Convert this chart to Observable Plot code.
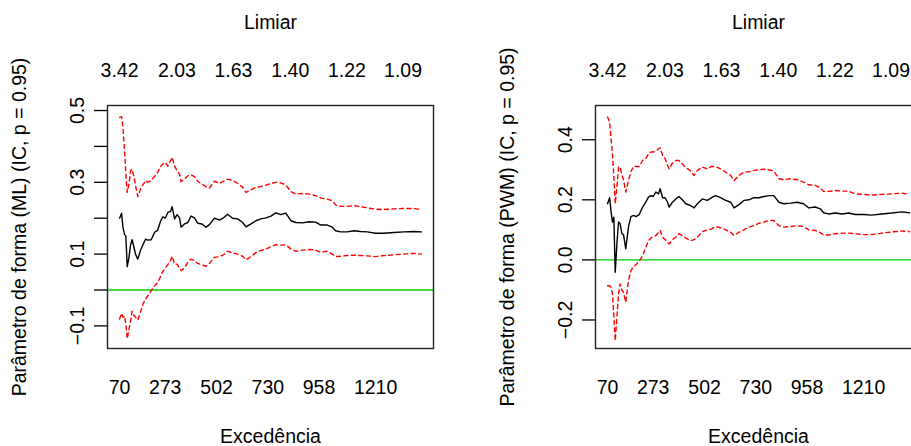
<!DOCTYPE html>
<html><head><meta charset="utf-8">
<script src="https://cdn.jsdelivr.net/npm/d3@7"></script>
<script src="https://cdn.jsdelivr.net/npm/@observablehq/plot@0.6"></script>
<style>
html,body{margin:0;padding:0;background:#fff;}
#wrap{position:relative;width:911px;height:446px;overflow:hidden;background:#fff;}
.panel{position:absolute;top:0;width:488px;height:446px;}
.panel svg{max-width:none !important;width:488px;height:446px;}
</style></head><body>
<div id="wrap"><div class="panel" id="p1" style="left:0"></div><div class="panel" id="p2" style="left:488px"></div></div>
<script>
// Number of exceedances (x)
const exceed = [70,79,85,92,98,104,112,119,126,134,141,151,163,174,186,196,211,226,240,252,263,273,285,297,304,315,326,337,344,359,374,388,403,418,437,455,470,492,514,533,551,573,596,618,633,655,677,699,722,744,766,788,810,833,855,884,914,943,966,995,1017,1032,1054,1084,1114,1143,1173,1210,1247,1291,1336,1380,1414];

// Axis ticks
const bottomTickExceed = [70, 273, 502, 730, 958, 1210];
const topTickExceed = [70, 325, 577, 830, 1082, 1332];
const topTickLabels = ["3.42", "2.03", "1.63", "1.40", "1.22", "1.09"];
const mlYTicks = [-0.1, 0, 0.1, 0.2, 0.3, 0.4, 0.5];
const mlYLabels = [-0.1, 0.1, 0.3, 0.5];
const pwmYTicks = [-0.2, 0, 0.2, 0.4];
const pwmYLabels = [-0.2, 0, 0.2, 0.4];

// ML shape estimates and 95% CI
const mlEstimate = [0.200,0.214,0.175,0.155,0.150,0.065, 0.091,0.126,0.140,0.119,0.100, 0.086,0.110,0.126,0.142,0.139, 0.140,0.161,0.167,0.191,0.204, 0.200,0.216,0.219,0.232,0.198, 0.210,0.201,0.175,0.184,0.188, 0.206,0.201,0.186,0.184,0.175, 0.182,0.200,0.195,0.201,0.211, 0.200,0.198,0.188,0.176,0.184, 0.193,0.198,0.201,0.206,0.215, 0.210,0.214,0.193,0.188,0.187, 0.190,0.189,0.181,0.181,0.175, 0.165,0.162,0.162,0.165,0.163, 0.162,0.158,0.158,0.160,0.162, 0.163,0.162];
const mlUpper = [0.481,0.483,0.453,0.388,0.323,0.272, 0.295,0.332,0.337,0.314,0.291, 0.260,0.281,0.293,0.305,0.300, 0.305,0.317,0.328,0.344,0.351, 0.356,0.345,0.360,0.370,0.346, 0.332,0.323,0.302,0.309,0.318, 0.321,0.316,0.303,0.295,0.288, 0.284,0.303,0.297,0.303,0.309, 0.305,0.297,0.286,0.272,0.279, 0.286,0.288,0.292,0.297,0.300, 0.298,0.293,0.274,0.267,0.269, 0.267,0.263,0.256,0.253,0.249, 0.237,0.233,0.233,0.235,0.232, 0.229,0.225,0.224,0.226,0.227, 0.227,0.224];
const mlLower = [-0.081,-0.065,-0.076,-0.072,-0.095,-0.136, -0.109,-0.085,-0.059,-0.071,-0.076, -0.084,-0.062,-0.039,-0.025,-0.016, -0.002,0.012,0.021,0.037,0.052, 0.061,0.071,0.082,0.094,0.072, 0.072,0.061,0.054,0.061,0.077, 0.086,0.082,0.074,0.070,0.066, 0.074,0.091,0.093,0.098,0.108, 0.103,0.100,0.094,0.084,0.093, 0.104,0.110,0.114,0.121,0.126, 0.125,0.126,0.114,0.108,0.111, 0.113,0.111,0.105,0.108,0.100, 0.093,0.094,0.096,0.097,0.096, 0.095,0.093,0.096,0.098,0.100, 0.102,0.100];

// PWM shape estimates and 95% CI
const pwmEstimate = [0.187,0.207,0.164,0.126,0.142,-0.041, 0.059,0.126,0.120,0.087,0.084, 0.037,0.109,0.144,0.148,0.144, 0.151,0.176,0.192,0.209,0.214, 0.211,0.226,0.220,0.237,0.207, 0.207,0.192,0.176,0.192,0.203, 0.211,0.200,0.187,0.182,0.173, 0.187,0.203,0.198,0.207,0.214, 0.207,0.198,0.192,0.173,0.184, 0.198,0.200,0.207,0.207,0.211, 0.214,0.214,0.192,0.187,0.189, 0.192,0.187,0.173,0.176,0.170, 0.157,0.153,0.156,0.153,0.156, 0.151,0.151,0.149,0.153,0.156, 0.160,0.157];
const pwmUpper = [0.476,0.459,0.409,0.348,0.276,0.187, 0.248,0.309,0.309,0.281,0.267, 0.226,0.264,0.294,0.312,0.311, 0.311,0.331,0.337,0.353,0.359, 0.359,0.362,0.370,0.373,0.348, 0.337,0.314,0.303,0.322,0.331, 0.331,0.320,0.307,0.298,0.281, 0.298,0.309,0.303,0.311,0.311, 0.303,0.292,0.281,0.264,0.281, 0.292,0.293,0.298,0.300,0.302, 0.300,0.296,0.270,0.267,0.270, 0.267,0.259,0.250,0.248,0.240, 0.228,0.228,0.231,0.229,0.229, 0.220,0.218,0.216,0.218,0.220, 0.222,0.218];
const pwmLower = [-0.086,-0.086,-0.091,-0.113,-0.191,-0.269, -0.186,-0.113,-0.080,-0.102,-0.108, -0.141,-0.069,-0.036,-0.022,-0.016, -0.004,0.014,0.042,0.064,0.073, 0.078,0.081,0.092,0.098,0.076, 0.068,0.059,0.053,0.067,0.076, 0.087,0.081,0.073,0.064,0.067, 0.076,0.094,0.100,0.103,0.111, 0.107,0.100,0.092,0.081,0.092, 0.100,0.109,0.114,0.122,0.126, 0.131,0.131,0.114,0.109,0.111, 0.114,0.111,0.100,0.098,0.091, 0.083,0.083,0.087,0.089,0.089, 0.087,0.084,0.084,0.089,0.093, 0.096,0.094];

const topTitle = "Limiar";
const bottomTitle = "Excedência";
const mlTitle = "Parâmetro de forma (ML) (IC, p = 0.95)";
const pwmTitle = "Parâmetro de forma (PWM) (IC, p = 0.95)";

const FONT = "'Liberation Sans', Arial, Helvetica, sans-serif";
const FS = 19.5;
const fmt = d => (d === 0 ? "0.0" : d.toFixed(1).replace("-", "\u2212"));

function panel(est, up, lo, yDomain, yTicks, yLabels, ylab) {
  const [x0, x1] = d3.extent(exceed);
  const pad = 0.04 * (x1 - x0);
  const rows = (vals) => exceed.map((x, i) => ({x, v: vals[i]}));
  return Plot.plot({
    width: 488, height: 446,
    marginLeft: 107, marginRight: 55, marginTop: 105, marginBottom: 98,
    style: {fontFamily: FONT, fontSize: FS + "px", background: "white", color: "black", overflow: "visible", maxWidth: "none"},
    x: {domain: [x0 - pad, x1 + pad]},
    y: {domain: yDomain},
    marks: [
      Plot.ruleY([0], {stroke: "#00CD00", strokeWidth: 1.3}),
      Plot.line(rows(up), {x: "x", y: "v", stroke: "#FF0000", strokeWidth: 1.4, strokeDasharray: "4,3.5"}),
      Plot.line(rows(lo), {x: "x", y: "v", stroke: "#FF0000", strokeWidth: 1.4, strokeDasharray: "4,3.5"}),
      Plot.line(rows(est), {x: "x", y: "v", stroke: "black", strokeWidth: 1.4}),
      Plot.frame({stroke: "#222", strokeWidth: 1.4}),
      Plot.axisX({anchor: "bottom", ticks: bottomTickExceed, tickSize: 0, tickPadding: 32, tickFormat: d => String(d), label: null, fontSize: FS}),
      Plot.axisX({anchor: "top", ticks: topTickExceed, tickSize: 0, tickPadding: 29, tickFormat: d => topTickLabels[topTickExceed.indexOf(d)], label: null, fontSize: FS}),
      Plot.axisY({ticks: yTicks, tickSize: 13, tickFormat: () => "", label: null, strokeWidth: 1.3}),
      Plot.axisY({ticks: yLabels, tickSize: 0, tickPadding: 24, tickRotate: -90, tickFormat: fmt, label: null, fontSize: FS}),
      Plot.text([ylab], {text: d => d, frameAnchor: "left", rotate: -90, dx: -82, textAnchor: "middle", lineAnchor: "bottom", fontSize: FS}),
      Plot.text([topTitle], {text: d => d, frameAnchor: "top", dy: -77, lineAnchor: "bottom", fontSize: FS}),
      Plot.text([bottomTitle], {text: d => d, frameAnchor: "bottom", dy: 94, lineAnchor: "bottom", fontSize: FS})
    ]
  });
}

document.getElementById("p1").appendChild(panel(mlEstimate, mlUpper, mlLower, [-0.163, 0.514], mlYTicks, mlYLabels, mlTitle));
document.getElementById("p2").appendChild(panel(pwmEstimate, pwmUpper, pwmLower, [-0.295, 0.514], pwmYTicks, pwmYLabels, pwmTitle));
</script>
</body></html>
